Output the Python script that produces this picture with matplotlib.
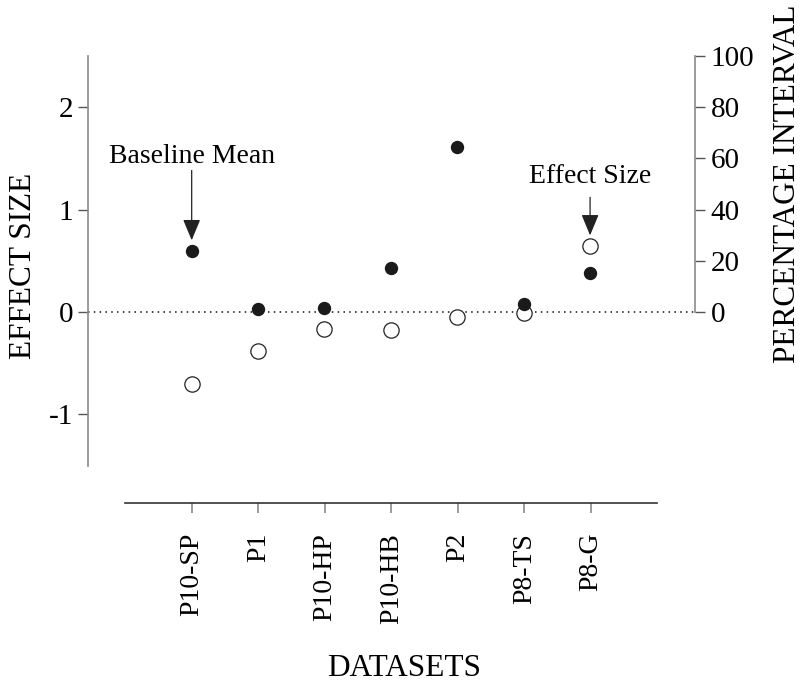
import matplotlib
matplotlib.use("Agg")
import matplotlib.pyplot as plt

plt.rcParams['font.family'] = ['Liberation Serif', 'DejaVu Serif']
plt.rcParams['axes.unicode_minus'] = False

categories = ['P10-SP', 'P1', 'P10-HP', 'P10-HB', 'P2', 'P8-TS', 'P8-G']
effect_size = [-0.708, -0.381, -0.166, -0.172, -0.049, -0.01, 0.64]
baseline_mean_pct = [23.8, 1.0, 1.7, 17.2, 64.4, 3.0, 15.4]
left_ticks = [-1, 0, 1, 2]
right_ticks = [0, 20, 40, 60, 80, 100]

W, H = 802, 687
fig = plt.figure(figsize=(W / 100, H / 100), dpi=100)

spine_c = '#8a8a8a'
tick_c = '#555555'

# main axes
ax = fig.add_axes([87.7 / W, 1 - 465.5 / H, (695 - 87.7) / W, (465.5 - 56) / H])
ax.set_facecolor('none')
xs = list(range(len(categories)))
ax.set_xlim(-1.566, 7.58)
ax.set_ylim(-1.5, 2.5)
for s in ['top', 'bottom', 'right']:
    ax.spines[s].set_visible(False)
ax.spines['left'].set_color(spine_c)
ax.spines['left'].set_linewidth(1.2)
ax.set_xticks([])
ax.set_yticks(left_ticks)
ax.set_yticklabels([str(t) for t in left_ticks])
ax.tick_params(axis='y', direction='out', length=7.2, width=1.0, color=tick_c,
               labelsize=21, pad=3)
ax.set_ylabel('EFFECT SIZE', fontsize=22.5)
ax.yaxis.set_label_coords(-(87.7 - 38) / (695 - 87.7), (465.5 - 266) / (465.5 - 56))

ax.axhline(0, color='#111111', lw=1.1, linestyle=(0, (1, 2.8)), zorder=1)

# twin axis for percentage
ax2 = ax.twinx()
ax2.set_ylim(-60, 100)
for s in ['top', 'bottom', 'left']:
    ax2.spines[s].set_visible(False)
ax2.spines['right'].set_color(spine_c)
ax2.spines['right'].set_linewidth(1.2)
ax2.spines['right'].set_bounds(0, 100)
ax2.set_yticks(right_ticks)
ax2.set_yticklabels([str(t) for t in right_ticks])
ax2.tick_params(axis='y', direction='out', length=7.2, width=1.0, color=tick_c,
                labelsize=21, pad=4)
ax2.set_ylabel('PERCENTAGE INTERVAL', fontsize=22.5, rotation=90)
ax2.yaxis.set_label_coords((773 - 87.7) / (695 - 87.7), (465.5 - 184) / (465.5 - 56))

# markers
ax.plot(xs, effect_size, linestyle='none', marker='o', markersize=11,
        markerfacecolor='white', markeredgecolor='#222222', markeredgewidth=0.9, zorder=3)
ax2.plot(xs, baseline_mean_pct, linestyle='none', marker='o', markersize=8.6,
         markerfacecolor='#1a1a1a', markeredgecolor='#1a1a1a', zorder=4)

# annotations
arrow_kw = dict(arrowstyle='-|>,head_length=0.65,head_width=0.27', mutation_scale=20,
                lw=0.9, color='#222222', shrinkA=0, shrinkB=0)
bm0 = baseline_mean_pct[0] / 40.0
ax.annotate('', xy=(0, bm0 + 0.105), xytext=(0, bm0 + 0.787), arrowprops=arrow_kw)
ax.text(0, bm0 + 0.855, 'Baseline Mean', fontsize=20, ha='center', va='baseline')
es6 = effect_size[6]
ax.annotate('', xy=(6, es6 + 0.108), xytext=(6, es6 + 0.479), arrowprops=arrow_kw)
ax.text(6, es6 + 0.616, 'Effect Size', fontsize=20, ha='center', va='baseline')

# bottom category axis
axb = fig.add_axes([125.3 / W, 1 - 503.3 / H, (657.3 - 125.3) / W, 0.0001])
axb.set_facecolor('none')
axb.set_xlim(-1, 7)
for s in ['top', 'left', 'right']:
    axb.spines[s].set_visible(False)
axb.spines['bottom'].set_color('#333333')
axb.spines['bottom'].set_linewidth(1.2)
axb.set_yticks([])
axb.set_xticks(xs)
axb.set_xticklabels(categories, rotation=90, fontsize=20)
axb.tick_params(axis='x', direction='out', length=7.2, width=1.2, color=spine_c, pad=14)

fig.text(404 / W, 1 - 668 / H, 'DATASETS', fontsize=22.5, ha='center', va='center')

fig.savefig('out.png', dpi=100)
